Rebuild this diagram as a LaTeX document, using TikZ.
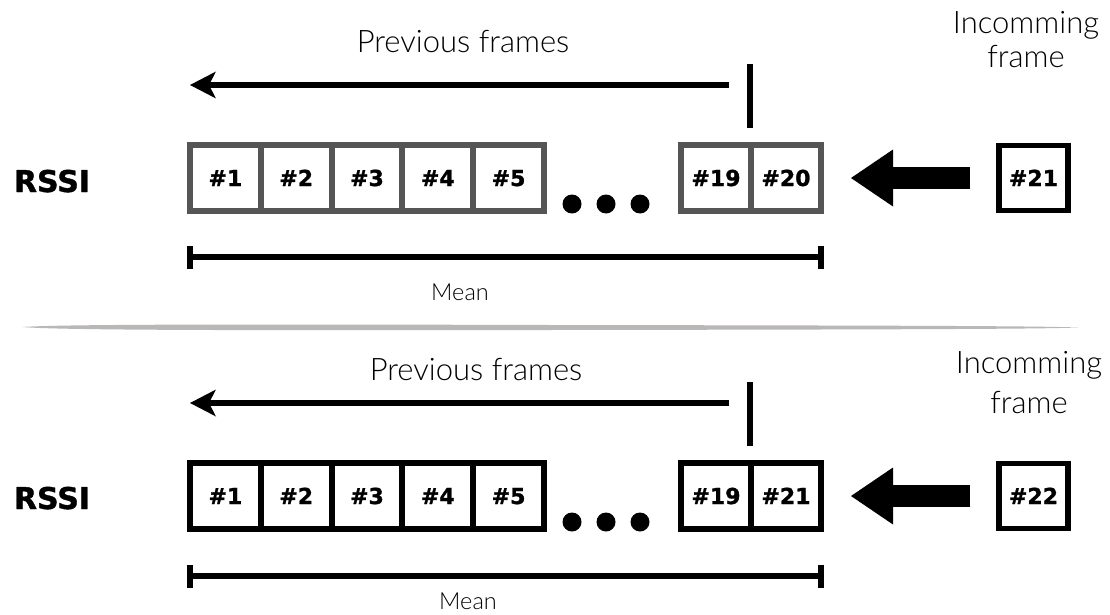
\documentclass[tikz,border=0pt]{standalone}
\usepackage{fontspec}
\setmainfont{Lato}
\newfontfamily\lightfont{Lato Light}
\newfontfamily\heavyfont{DejaVu Sans}[BoldFeatures={FakeBold=1.2}]
\usetikzlibrary{arrows.meta}
\definecolor{framegray}{RGB}{85,85,85}
\definecolor{sepgray}{RGB}{186,183,183}
\tikzset{
  cell/.style={draw, line width=6pt, minimum width=70.8pt, minimum height=66pt, inner sep=0pt,
    font=\heavyfont\bfseries\fontsize{22}{22}\selectfont, text height=16pt, text depth=0pt},
  topcell/.style={cell, draw=framegray},
  lbl/.style={font=\lightfont\fontsize{31}{31}\selectfont, inner sep=0pt},
  meanlbl/.style={font=\lightfont\fontsize{23.5}{23.5}\selectfont, inner sep=0pt},
  rssi/.style={font=\heavyfont\bfseries\fontsize{30}{30}\selectfont, inner sep=0pt},
  thinarrow/.style={line width=5.5pt, -{Stealth[length=26pt,width=27pt,inset=7pt,line width=0pt]}},
  tickline/.style={line width=6pt},
  meanbar/.style={line width=6.5pt, {Bar[width=23pt,line width=6pt]}-{Bar[width=23pt,line width=6pt]}},
  bigarrow/.style={line width=22pt, -{Triangle[length=42pt,width=57pt,line width=0pt]}},
  dot/.style={fill=black},
}
\begin{document}
\begin{tikzpicture}[x=1pt,y=-1pt]
\useasboundingbox (0,0) rectangle (1110,615);
% ---------- top panel ----------
\node[lbl, anchor=base] (pf1) at (463,53) {Previous frames};
\node[lbl, anchor=base] (in1a) at (1026,34) {Incomming};
\node[lbl, anchor=base] (in1b) at (1026,68) {frame};
\node[rssi, anchor=base] (rssi1) at (52,192) {RSSI};
\node[topcell] (a1) at (225.4,178) {\#1};
\node[topcell] (a2) at (296.2,178) {\#2};
\node[topcell] (a3) at (367.0,178) {\#3};
\node[topcell] (a4) at (437.8,178) {\#4};
\node[topcell] (a5) at (508.6,178) {\#5};
\node[topcell, minimum width=70pt] (a19) at (716,178) {\#19};
\node[topcell, minimum width=70pt] (a20) at (786,178) {\#20};
\node[cell, line width=5.5pt, minimum width=69pt, minimum height=65pt] (inc1) at (1033.5,178) {\#21};
\fill[dot] (572,204) circle[radius=9.5pt] (606,204) circle[radius=9.5pt] (640,204) circle[radius=9.5pt];
\coordinate (p1r) at (729,85);
\coordinate (p1l) at (190,85);
\draw[thinarrow] (p1r) -- (p1l);
\coordinate (t1a) at (750,64);
\coordinate (t1b) at (750,128);
\draw[tickline] (t1a) -- (t1b);
\draw[bigarrow, shorten <=26pt, shorten >=27pt] (inc1) -- (a20);
\coordinate (m1l) at (187,257);
\coordinate (m1r) at (824,257);
\draw[meanbar] (m1l) -- (m1r);
\node[meanlbl, anchor=base] (mean1) at (460,300) {Mean};
% ---------- separator ----------
\fill[sepgray] (22,327) .. controls (60,324.5) and (200,324) .. (550,325)
  .. controls (900,325.5) and (1040,326) .. (1078,327.5)
  .. controls (1040,329) and (900,329.5) .. (550,330)
  .. controls (200,330.5) and (60,330) .. (22,327) -- cycle;
% ---------- bottom panel ----------
\node[lbl, anchor=base] (pf2) at (476,380) {Previous frames};
\node[lbl, anchor=base] (in2a) at (1029,373) {Incomming};
\node[lbl, anchor=base] (in2b) at (1029,413) {frame};
\node[rssi, anchor=base] (rssi2) at (52,509) {RSSI};
\node[cell] (b1) at (225.4,496) {\#1};
\node[cell] (b2) at (296.2,496) {\#2};
\node[cell] (b3) at (367.0,496) {\#3};
\node[cell] (b4) at (437.8,496) {\#4};
\node[cell] (b5) at (508.6,496) {\#5};
\node[cell, minimum width=70pt] (b19) at (716,496) {\#19};
\node[cell, minimum width=70pt] (b21) at (786,496) {\#21};
\node[cell, line width=5.5pt, minimum width=69pt, minimum height=65pt] (inc2) at (1033.5,496) {\#22};
\fill[dot] (572,522) circle[radius=9.5pt] (606,522) circle[radius=9.5pt] (640,522) circle[radius=9.5pt];
\coordinate (p2r) at (729,403);
\coordinate (p2l) at (190,403);
\draw[thinarrow] (p2r) -- (p2l);
\coordinate (t2a) at (750,382);
\coordinate (t2b) at (750,446);
\draw[tickline] (t2a) -- (t2b);
\draw[bigarrow, shorten <=26pt, shorten >=27pt] (inc2) -- (b21);
\coordinate (m2l) at (187,576);
\coordinate (m2r) at (824,576);
\draw[meanbar] (m2l) -- (m2r);
\node[meanlbl, anchor=base] (mean2) at (468,609) {Mean};
\end{tikzpicture}
\end{document}
